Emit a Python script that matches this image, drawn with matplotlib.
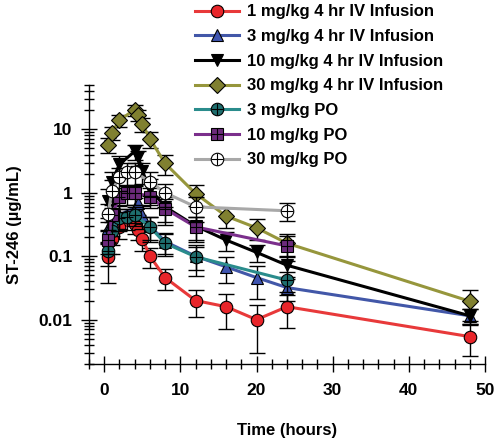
import matplotlib
matplotlib.use("Agg")
import matplotlib.pyplot as plt
from matplotlib.ticker import MultipleLocator, LogLocator, FixedLocator, FixedFormatter, NullFormatter
from matplotlib.legend_handler import HandlerTuple

plt.rcParams['font.family'] = ['Liberation Sans', 'DejaVu Sans']
plt.rcParams['font.weight'] = 'bold'

# ---- data ----
t_iv = [0.5, 1, 2, 4, 4.5, 5, 6, 8, 12, 16, 20, 24, 48]
t_po = [0.5, 1, 2, 3, 4, 6, 8, 12, 24]

iv1 = [0.098, 0.19, 0.29, 0.32, 0.26, 0.19, 0.10, 0.046, 0.020, 0.016, 0.010, 0.016, 0.0054]
iv1_sd = [0.06, 0.08, 0.10, 0.10, 0.08, 0.07, 0.035, 0.017, 0.009, 0.009, 0.007, 0.0085, 0.0027]

iv3 = [0.28, 0.36, 0.45, 0.58, 0.70, 0.45, 0.30, 0.17, 0.10, 0.068, 0.046, 0.032, 0.0115]
iv3_sd = [0.12, 0.15, 0.18, 0.25, 0.25, 0.18, 0.12, 0.06, 0.04, 0.03, 0.025, 0.012, 0.003]

iv10 = [0.75, 1.5, 2.8, 4.5, 3.6, 2.2, 1.15, 0.6, 0.3, 0.18, 0.115, 0.072, 0.0115]
iv10_sd = [0.4, 0.6, 1.0, 1.2, 1.0, 0.8, 0.5, 0.25, 0.12, 0.06, 0.035, 0.025, 0.003]

iv30 = [5.7, 8.8, 13.9, 20.5, 17.0, 12.2, 7.1, 2.9, 0.97, 0.43, 0.28, 0.16, 0.0195]
iv30_sd = [1.5, 2.0, 3.0, 4.0, 3.5, 3.0, 2.0, 1.0, 0.35, 0.15, 0.1, 0.06, 0.01]

po3 = [0.12, 0.25, 0.40, 0.41, 0.45, 0.29, 0.16, 0.098, 0.042]
po3_sd = [0.05, 0.1, 0.15, 0.15, 0.15, 0.12, 0.06, 0.05, 0.015]

po10 = [0.18, 0.45, 0.85, 1.0, 1.0, 0.87, 0.56, 0.29, 0.145]
po10_sd = [0.07, 0.2, 0.35, 0.35, 0.35, 0.3, 0.25, 0.12, 0.06]

po30 = [0.46, 1.07, 1.75, 2.1, 2.1, 1.5, 1.0, 0.6, 0.52]
po30_sd = [0.2, 0.5, 0.7, 0.8, 0.8, 0.6, 0.4, 0.25, 0.16]

labels = ["1 mg/kg 4 hr IV Infusion", "3 mg/kg 4 hr IV Infusion",
          "10 mg/kg 4 hr IV Infusion", "30 mg/kg 4 hr IV Infusion",
          "3 mg/kg PO", "10 mg/kg PO", "30 mg/kg PO"]

xticks = [0, 10, 20, 30, 40, 50]
yticks = [0.01, 0.1, 1, 10]
yticklabels = ["0.01", "0.1", "1", "10"]

# ---- styles ----
series = [
    (t_iv, iv1, iv1_sd, dict(color="#E8393A", marker="o", mfc="#E8252A", ms=9), False),
    (t_iv, iv3, iv3_sd, dict(color="#4257A8", marker="^", mfc="#3F55B0", ms=8.5), False),
    (t_iv, iv10, iv10_sd, dict(color="#000000", marker="v", mfc="#000000", ms=8.5), False),
    (t_iv, iv30, iv30_sd, dict(color="#96963C", marker="D", mfc="#808030", ms=8), False),
    (t_po, po3, po3_sd, dict(color="#2A8C8C", marker="o", mfc="#1E6E6E", ms=9), True),
    (t_po, po10, po10_sd, dict(color="#7B2F8C", marker="s", mfc="#6B2A7B", ms=8.5), True),
    (t_po, po30, po30_sd, dict(color="#A8A8A8", marker="o", mfc="#FFFFFF", ms=9), True),
]

fig = plt.figure(figsize=(4.98, 4.42), dpi=100)
ax = fig.add_axes([0.1787, 0.1765, 0.7952, 0.6312])

handles = []
for i, (t, y, sd, st, cross) in enumerate(series):
    z = 3 + i
    ax.errorbar(t, y, yerr=sd, fmt="none", ecolor="black", elinewidth=1.0,
                capsize=6, capthick=1.0, zorder=z)
    ln, = ax.plot(t, y, color=st["color"], lw=2.2, marker=st["marker"],
                  mfc=st["mfc"], mec="black", mew=0.8, ms=st["ms"], zorder=z + 0.5)
    if cross:
        cr, = ax.plot(t, y, ls="none", marker="+", color="black",
                      ms=st["ms"] * 0.95, mew=0.8, zorder=z + 0.6)
        handles.append((ln, cr))
    else:
        handles.append(ln)

ax.set_yscale("log")
ax.set_xlim(-2, 50)
ax.set_ylim(0.002, 50)

ax.xaxis.set_major_locator(FixedLocator(xticks))
ax.xaxis.set_minor_locator(MultipleLocator(2))
ax.yaxis.set_major_locator(FixedLocator(yticks))
ax.yaxis.set_major_formatter(FixedFormatter(yticklabels))
ax.yaxis.set_minor_locator(LogLocator(base=10, subs=range(2, 10), numticks=20))
ax.yaxis.set_minor_formatter(NullFormatter())

for s in ["top", "right"]:
    ax.spines[s].set_visible(False)
for s in ["left", "bottom"]:
    ax.spines[s].set_linewidth(1.0)

ax.tick_params(axis="both", which="major", direction="inout", length=12, width=1.0,
               labelsize=12.5)
ax.tick_params(axis="both", which="minor", direction="inout", length=7, width=1.0)
ax.tick_params(axis="x", which="major", pad=8)
ax.tick_params(axis="y", which="major", pad=6)
for lab in ax.get_xticklabels() + ax.get_yticklabels():
    lab.set_fontweight("bold")

ax.set_xlabel("Time (hours)", fontsize=12, fontweight="bold", labelpad=18)
ax.set_ylabel("ST-246 (µg/mL)", fontsize=12, fontweight="bold", labelpad=12)

fig.legend(handles, labels, loc="upper left", bbox_to_anchor=(0.392, 0.99),
           frameon=False, prop={"weight": "bold", "size": 12},
           handlelength=2.6, handletextpad=0.5, labelspacing=0.58,
           borderpad=0.0, borderaxespad=0.0,
           handler_map={tuple: HandlerTuple(ndivide=1, pad=0)})

fig.savefig("out.png", dpi=100)
